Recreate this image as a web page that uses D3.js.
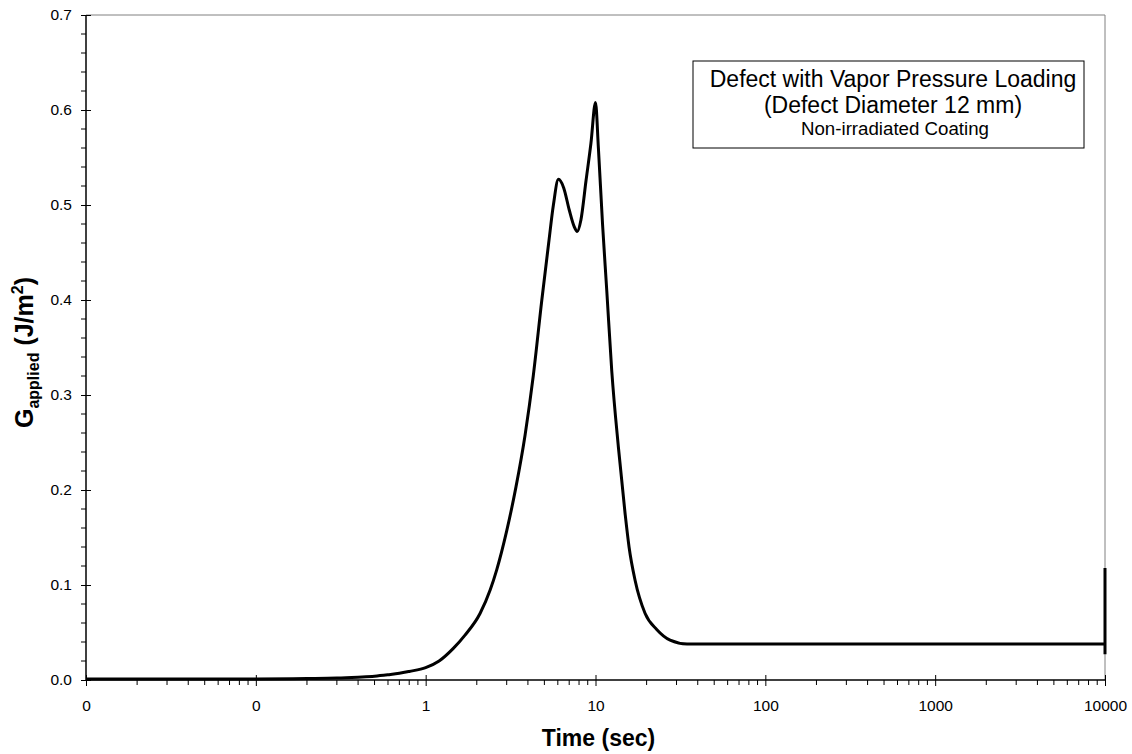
<!DOCTYPE html>
<html>
<head>
<meta charset="utf-8">
<script src="https://cdn.jsdelivr.net/npm/d3@7"></script>
<style>
  body { margin: 0; background: #fff; }
  svg { display: block; font-family: "Liberation Sans", Arial, sans-serif; }
</style>
</head>
<body>
<svg id="chart" width="1132" height="754"></svg>
<script>
// G applied vs time
const timeSec = [0.01, 0.05, 0.1, 0.2, 0.3, 0.4, 0.5, 0.6, 0.7, 0.8, 1.0, 1.2, 1.45, 1.7, 2.09, 2.4, 2.62, 3.0, 3.4, 3.85,
  4.3, 4.83, 5.3, 5.65, 6.05, 6.5, 7.0, 7.5, 7.8, 8.2, 8.8, 9.4, 10.0, 10.4, 11.0, 11.65, 12.47, 13.64, 14.94, 15.76, 17.1, 19.6,
  23.0, 27.5, 34.6, 100, 1000, 10000];
const gApplied = [0.001, 0.001, 0.001, 0.0015, 0.002, 0.003, 0.004, 0.0055, 0.007, 0.009, 0.013, 0.02, 0.033, 0.047, 0.07, 0.095, 0.116, 0.157, 0.203, 0.258,
  0.32, 0.40, 0.46, 0.50, 0.527, 0.518, 0.495, 0.477, 0.472, 0.484, 0.526, 0.565, 0.608, 0.56, 0.48, 0.41, 0.325, 0.245, 0.175, 0.14, 0.105, 0.07,
  0.053, 0.042, 0.038, 0.038, 0.038, 0.038];
// final jump at the last time step
const spikeTime = [10000, 10000, 10000];
const spikeG = [0.038, 0.118, 0.027];

const xTicks = [0.01, 0.1, 1, 10, 100, 1000, 10000];
const xTickLabels = ["0", "0", "1", "10", "100", "1000", "10000"];
const yTicks = [0, 0.1, 0.2, 0.3, 0.4, 0.5, 0.6, 0.7];

const svg = d3.select("#chart");
const pLeft = 86, pRight = 1105, pTop = 15, pBottom = 680;

const x = d3.scaleLog().domain([0.01, 10000]).range([pLeft, pRight]);
const y = d3.scaleLinear().domain([0, 0.7]).range([pBottom, pTop]);

// frame (top and right)
svg.append("line").attr("x1", pLeft).attr("x2", pRight).attr("y1", pTop).attr("y2", pTop)
  .attr("stroke", "#808080").attr("stroke-width", 1);
svg.append("line").attr("x1", pRight).attr("x2", pRight).attr("y1", pTop).attr("y2", pBottom)
  .attr("stroke", "#808080").attr("stroke-width", 1);

// minor ticks
const xMinor = [];
for (let p = -2; p < 4; p++) for (let k = 2; k <= 9; k++) xMinor.push(k * Math.pow(10, p));
svg.append("g").selectAll("line").data(xMinor).join("line")
  .attr("x1", d => x(d)).attr("x2", d => x(d))
  .attr("y1", pBottom).attr("y2", pBottom + 5)
  .attr("stroke", "#000").attr("stroke-width", 1);

const yMinor = d3.range(0, 70).filter(i => i % 10 !== 0).filter(i => i % 2 === 0).map(i => i / 100);
svg.append("g").selectAll("line").data(yMinor).join("line")
  .attr("x1", pLeft - 5).attr("x2", pLeft)
  .attr("y1", d => y(d)).attr("y2", d => y(d))
  .attr("stroke", "#000").attr("stroke-width", 1);

// axes
const xAxis = d3.axisBottom(x).tickValues(xTicks).tickSize(5)
  .tickFormat((d, i) => xTickLabels[i]);
const gx = svg.append("g").attr("transform", `translate(0,${pBottom})`).call(xAxis);
gx.select(".domain").remove();
gx.selectAll(".tick line").attr("y1", -5).attr("y2", 6).attr("stroke", "#000");
gx.selectAll(".tick text").attr("y", 20).attr("dy", "0.71em")
  .attr("font-size", 15.5).attr("font-family", "Liberation Sans, Arial, sans-serif").attr("fill", "#000");

const yAxis = d3.axisLeft(y).tickValues(yTicks).tickSize(5).tickFormat(d3.format(".1f"));
const gy = svg.append("g").attr("transform", `translate(${pLeft},0)`).call(yAxis);
gy.select(".domain").remove();
gy.selectAll(".tick line").attr("x1", -5).attr("x2", 5).attr("stroke", "#000");
gy.selectAll(".tick text").attr("x", -14)
  .attr("font-size", 15.5).attr("font-family", "Liberation Sans, Arial, sans-serif").attr("fill", "#000");

svg.append("line").attr("x1", pLeft).attr("x2", pRight).attr("y1", pBottom).attr("y2", pBottom)
  .attr("stroke", "#000").attr("stroke-width", 1.5);
svg.append("line").attr("x1", pLeft).attr("x2", pLeft).attr("y1", pTop).attr("y2", pBottom)
  .attr("stroke", "#000").attr("stroke-width", 1.5);

// data curve
const pts = timeSec.map((t, i) => [t, gApplied[i]]);
const line = d3.line().x(d => x(d[0])).y(d => y(d[1])).curve(d3.curveMonotoneX);
svg.append("path").datum(pts)
  .attr("d", line)
  .attr("fill", "none").attr("stroke", "#000").attr("stroke-width", 3)
  .attr("stroke-linejoin", "round");

const spike = spikeTime.map((t, i) => [t, spikeG[i]]);
svg.append("path").datum(spike)
  .attr("d", d3.line().x(d => x(d[0])).y(d => y(d[1])))
  .attr("fill", "none").attr("stroke", "#000").attr("stroke-width", 3);

// axis titles
svg.append("text")
  .attr("x", (pLeft + pRight) / 2 + 3).attr("y", 746)
  .attr("text-anchor", "middle").attr("font-weight", "bold").attr("font-size", 23)
  .text("Time (sec)");

const yt = svg.append("text")
  .attr("transform", `translate(33,${(pTop + pBottom) / 2 + 5}) rotate(-90)`)
  .attr("text-anchor", "middle").attr("font-weight", "bold").attr("font-size", 25);
yt.append("tspan").text("G");
yt.append("tspan").text("applied").attr("font-size", 16).attr("dy", 6);
yt.append("tspan").text(" (J/m").attr("dy", -6);
yt.append("tspan").text("2").attr("font-size", 16).attr("dy", -10);
yt.append("tspan").text(")").attr("dy", 10);

// annotation box
const box = svg.append("g");
box.append("rect")
  .attr("x", 693).attr("y", 61).attr("width", 391).attr("height", 87)
  .attr("fill", "#fff").attr("stroke", "#000").attr("stroke-width", 1);
box.append("text").attr("x", 893).attr("y", 87).attr("text-anchor", "middle")
  .attr("font-size", 23).text("Defect with Vapor Pressure Loading");
box.append("text").attr("x", 893).attr("y", 113).attr("text-anchor", "middle")
  .attr("font-size", 23).text("(Defect Diameter 12 mm)");
box.append("text").attr("x", 895).attr("y", 135).attr("text-anchor", "middle")
  .attr("font-size", 18.7).text("Non-irradiated Coating");
</script>
</body>
</html>
